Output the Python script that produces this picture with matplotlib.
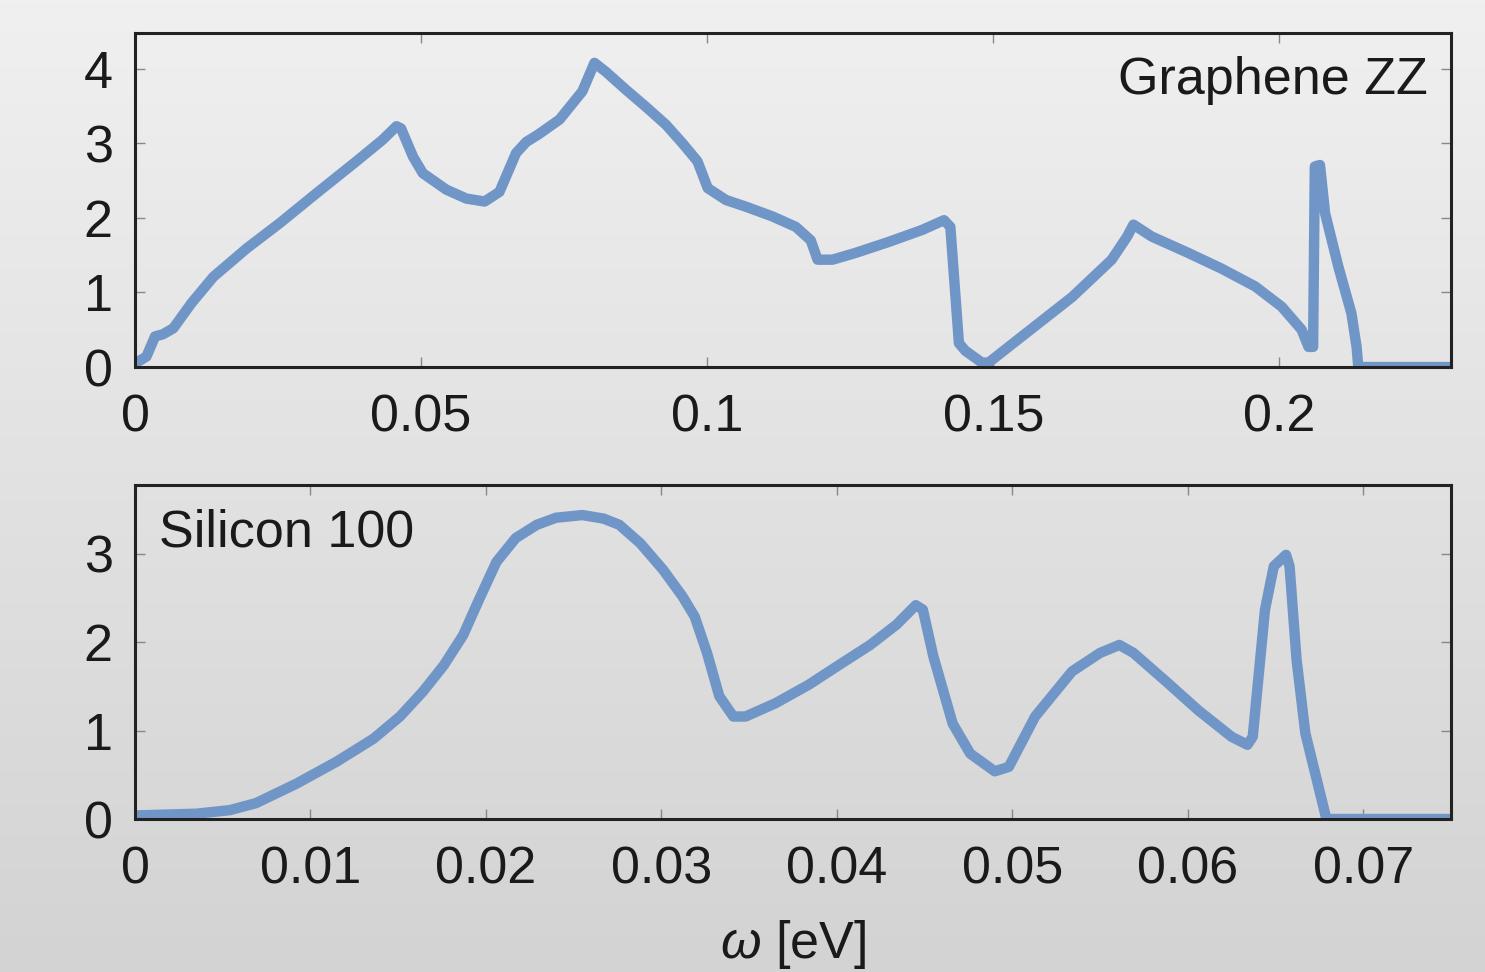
import numpy as np
import matplotlib
matplotlib.use('Agg')
import matplotlib.pyplot as plt

plt.rcParams['font.family'] = ['Liberation Sans', 'DejaVu Sans']
plt.rcParams['mathtext.fontset'] = 'custom'
plt.rcParams['mathtext.it'] = 'Liberation Sans:italic'

# graphene ZZ spectrum (omega in eV)
gr_w = [0.0, 0.0009, 0.0020, 0.0035, 0.0049, 0.0067, 0.0099, 0.0137, 0.0195,
        0.0253, 0.0317, 0.0387, 0.0433, 0.0457, 0.0465, 0.0486, 0.0503, 0.0544,
        0.0579, 0.0611, 0.0637, 0.0666, 0.0684, 0.0705, 0.0742, 0.0782, 0.0803,
        0.0823, 0.0858, 0.0893, 0.0928, 0.0957, 0.0983, 0.1001, 0.1033, 0.1068,
        0.1114, 0.1155, 0.1181, 0.1193, 0.1219, 0.1259, 0.1318, 0.1376, 0.1414,
        0.1425, 0.1440, 0.1451, 0.1480, 0.1492, 0.1550, 0.1638, 0.1707, 0.1734,
        0.1745, 0.1777, 0.1841, 0.1899, 0.1958, 0.2004, 0.2039, 0.2051, 0.2059,
        0.2062, 0.2071, 0.2080, 0.2103, 0.2126, 0.2135, 0.2138, 0.2300]
gr_y = [0.05, 0.09, 0.14, 0.41, 0.44, 0.52, 0.86, 1.21, 1.59,
        1.93, 2.33, 2.76, 3.05, 3.23, 3.20, 2.82, 2.60, 2.38,
        2.26, 2.22, 2.35, 2.87, 3.02, 3.12, 3.32, 3.70, 4.08,
        3.96, 3.72, 3.49, 3.25, 3.00, 2.76, 2.40, 2.24, 2.15,
        2.02, 1.88, 1.70, 1.44, 1.44, 1.53, 1.68, 1.84, 1.97,
        1.88, 0.32, 0.22, 0.06, 0.06, 0.41, 0.94, 1.44, 1.75,
        1.91, 1.75, 1.53, 1.32, 1.08, 0.81, 0.50, 0.27, 0.27,
        2.69, 2.71, 2.06, 1.35, 0.72, 0.27, 0.0, 0.0]

# silicon 100 spectrum
si_w = [0.0, 0.0035, 0.0054, 0.0069, 0.0092, 0.0115, 0.0136, 0.0151, 0.0164,
        0.0176, 0.0187, 0.0196, 0.0206, 0.0217, 0.0229, 0.0240, 0.0255, 0.0267,
        0.0276, 0.0288, 0.0301, 0.0312, 0.0319, 0.0326, 0.0333, 0.0341, 0.0348,
        0.0365, 0.0384, 0.0401, 0.0419, 0.0434, 0.0445, 0.0449, 0.0455, 0.0466,
        0.0476, 0.0490, 0.0498, 0.0513, 0.0534, 0.0550, 0.0561, 0.0569, 0.0588,
        0.0606, 0.0625, 0.0634, 0.0637, 0.0644, 0.0649, 0.0656, 0.0658, 0.0662,
        0.0667, 0.0679, 0.0750]
si_y = [0.04, 0.06, 0.10, 0.18, 0.40, 0.65, 0.91, 1.16, 1.44,
        1.74, 2.08, 2.48, 2.91, 3.18, 3.33, 3.41, 3.44, 3.40,
        3.33, 3.12, 2.82, 2.52, 2.29, 1.88, 1.39, 1.16, 1.16,
        1.31, 1.52, 1.74, 1.97, 2.20, 2.42, 2.37, 1.84, 1.08,
        0.74, 0.54, 0.59, 1.16, 1.67, 1.88, 1.97, 1.88, 1.55,
        1.23, 0.93, 0.84, 0.93, 2.37, 2.86, 2.99, 2.86, 1.80,
        0.97, 0.0, 0.0]

line_col = '#7096c8'

fig = plt.figure(figsize=(14.85, 9.72), dpi=100)

# gradient background
bg = fig.add_axes([0, 0, 1, 1], zorder=-10)
grad = np.linspace(240, 211, 256).reshape(-1, 1) / 255.0
bg.imshow(np.dstack([grad, grad, grad]), aspect='auto', extent=[0, 1, 0, 1])
bg.set_axis_off()

ax1 = fig.add_axes([0.0909, 0.6224, 0.8862, 0.3436])
ax2 = fig.add_axes([0.0909, 0.1574, 0.8862, 0.3436])

for ax in (ax1, ax2):
    ax.set_facecolor('none')
    for s in ax.spines.values():
        s.set_linewidth(2.2)
        s.set_color('#222222')
        s.set_zorder(5)
    ax.tick_params(direction='in', top=True, right=True, length=7, width=1.0,
                   color='#888888', labelsize=37.5, labelcolor='#1a1a1a')
    ax.tick_params(axis='x', pad=19)
    ax.tick_params(axis='y', pad=16)

ax1.plot(gr_w, gr_y, color=line_col, lw=7.5, solid_joinstyle='round')
ax1.set_xlim(0, 0.23)
ax1.set_ylim(0, 4.48)
ax1.set_xticks([0, 0.05, 0.1, 0.15, 0.2])
ax1.set_xticklabels(['0', '0.05', '0.1', '0.15', '0.2'])
ax1.set_yticks([0, 1, 2, 3, 4])
ax1.text(0.982, 0.93, 'Graphene ZZ', transform=ax1.transAxes, ha='right',
         va='top', fontsize=37.5, color='#1a1a1a')

ax2.plot(si_w, si_y, color=line_col, lw=7.5, solid_joinstyle='round')
ax2.set_xlim(0, 0.075)
ax2.set_ylim(0, 3.78)
ax2.set_xticks([0, 0.01, 0.02, 0.03, 0.04, 0.05, 0.06, 0.07])
ax2.set_xticklabels(['0', '0.01', '0.02', '0.03', '0.04', '0.05', '0.06', '0.07'])
ax2.set_yticks([0, 1, 2, 3])
ax2.text(0.018, 0.93, 'Silicon 100', transform=ax2.transAxes, ha='left',
         va='top', fontsize=37.5, color='#1a1a1a')
ax2.set_xlabel(r'$\omega$ [eV]', fontsize=37.5, color='#1a1a1a', labelpad=17)

fig.savefig('out.png', dpi=100)
